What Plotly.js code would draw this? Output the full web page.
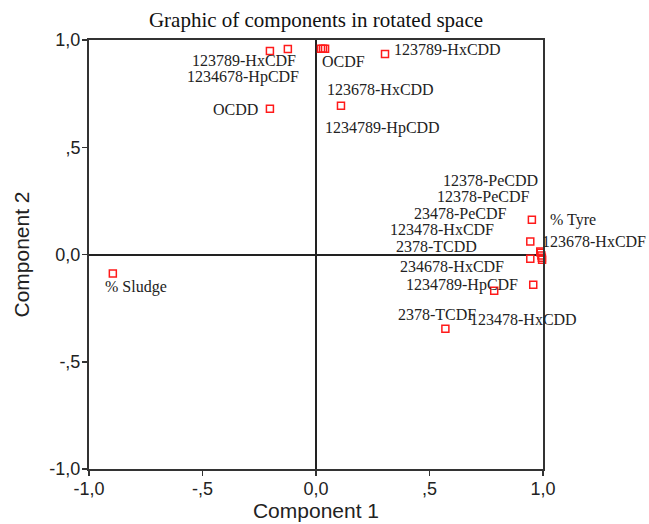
<!DOCTYPE html>
<html>
<head>
<meta charset="utf-8">
<script src="https://cdn.plot.ly/plotly-3.0.1.min.js"></script>
<style>html,body{margin:0;padding:0;background:#fff;}#chart{width:649px;height:524px;}</style>
</head>
<body>
<div id="chart"></div>
<script>
// Loadings of each variable (points)
const pointNames = [
  "% Sludge", "OCDD", "123789-HxCDF", "1234678-HpCDF", "OCDF", "123678-HxCDD", "OCDF b",
  "123789-HxCDD", "1234789-HpCDD",
  "% Tyre", "123478-HxCDF", "234678-HxCDF", "123678-HxCDF", "12378-PeCDD", "12378-PeCDF",
  "23478-PeCDF", "2378-TCDD", "1234789-HpCDF", "2378-TCDF", "123478-HxCDD"
];
const comp1 = [
  -0.895, -0.203, -0.203, -0.124, 0.022, 0.031, 0.040,
  0.304, 0.110,
  0.951, 0.944, 0.944, 0.988, 0.993, 0.996,
  0.990, 0.995, 0.957, 0.785, 0.570
];
const comp2 = [
  -0.089, 0.679, 0.949, 0.958, 0.959, 0.959, 0.959,
  0.935, 0.693,
  0.162, 0.061, -0.020, 0.014, -0.005, -0.025,
  0.008, -0.015, -0.141, -0.169, -0.346
];

// Text labels and where they sit (data units)
const labelTexts = [
  "123789-HxCDF", "1234678-HpCDF", "OCDD", "OCDF", "123678-HxCDD", "1234789-HpCDD",
  "123789-HxCDD", "% Sludge", "12378-PeCDD", "12378-PeCDF", "23478-PeCDF", "% Tyre",
  "123478-HxCDF", "2378-TCDD", "123678-HxCDF", "234678-HxCDF", "1234789-HpCDF",
  "2378-TCDF", "123478-HxCDD"
];
const labelX = [
  -0.318, -0.322, -0.353, 0.119, 0.282, 0.291,
  0.578, -0.794, 0.768, 0.737, 0.636, 1.134,
  0.557, 0.530, 1.226, 0.601, 0.645,
  0.534, 0.913
];
const labelY = [
  0.906, 0.826, 0.674, 0.898, 0.767, 0.590,
  0.958, -0.150, 0.347, 0.271, 0.190, 0.162,
  0.118, 0.038, 0.059, -0.057, -0.141,
  -0.281, -0.304
];

const tickVals = [-1, -0.5, 0, 0.5, 1];
const tickText = ["-1,0", "-,5", "0,0", ",5", "1,0"];

const xRange = [-1, 1], yRange = [-1, 1];

const trace = {
  type: "scatter", mode: "markers",
  x: comp1, y: comp2, text: pointNames, hoverinfo: "text",
  marker: {symbol: "square-open", size: 7, color: "#ff1a1a", line: {width: 1.5, color: "#ff1a1a"}},
  cliponaxis: false
};

const annotations = labelTexts.map((t, i) => ({
  text: t,
  xref: "paper", yref: "paper",
  x: (labelX[i] - xRange[0]) / (xRange[1] - xRange[0]),
  y: (labelY[i] - yRange[0]) / (yRange[1] - yRange[0]),
  xanchor: "center", yanchor: "middle", showarrow: false, borderpad: 0,
  font: {family: "Liberation Serif, Times New Roman, serif", size: 16, color: "#222"}
}));

const sans = "Liberation Sans, Arial, sans-serif";
const axisCommon = {
  tickvals: tickVals, ticktext: tickText,
  ticks: "outside", ticklen: 5, tickwidth: 1.5, tickcolor: "#333",
  showline: true, mirror: true, linecolor: "#333", linewidth: 2,
  zeroline: true, zerolinecolor: "#222", zerolinewidth: 2,
  showgrid: false,
  tickfont: {family: sans, size: 18, color: "#222"}
};

const layout = {
  width: 649, height: 524,
  margin: {l: 89, r: 106, t: 40, b: 55},
  paper_bgcolor: "#fff", plot_bgcolor: "#fff",
  showlegend: false,
  title: {
    text: "Graphic of components in rotated space",
    font: {family: "Liberation Serif, Times New Roman, serif", size: 21, color: "#111"},
    x: 0.5, xref: "paper", y: 1 - 20 / 524, yref: "container", yanchor: "middle"
  },
  xaxis: Object.assign({}, axisCommon, {
    range: xRange,
    ticklabelstandoff: -3,
    title: {text: "Component 1", standoff: 0, font: {family: sans, size: 21, color: "#222"}}
  }),
  yaxis: Object.assign({}, axisCommon, {
    range: yRange,
    ticklabelstandoff: -2,
    title: {text: "Component 2", standoff: 14, font: {family: sans, size: 21, color: "#222"}}
  }),
  annotations: annotations
};

Plotly.newPlot("chart", [trace], layout, {displayModeBar: false, staticPlot: true});
</script>
</body>
</html>
